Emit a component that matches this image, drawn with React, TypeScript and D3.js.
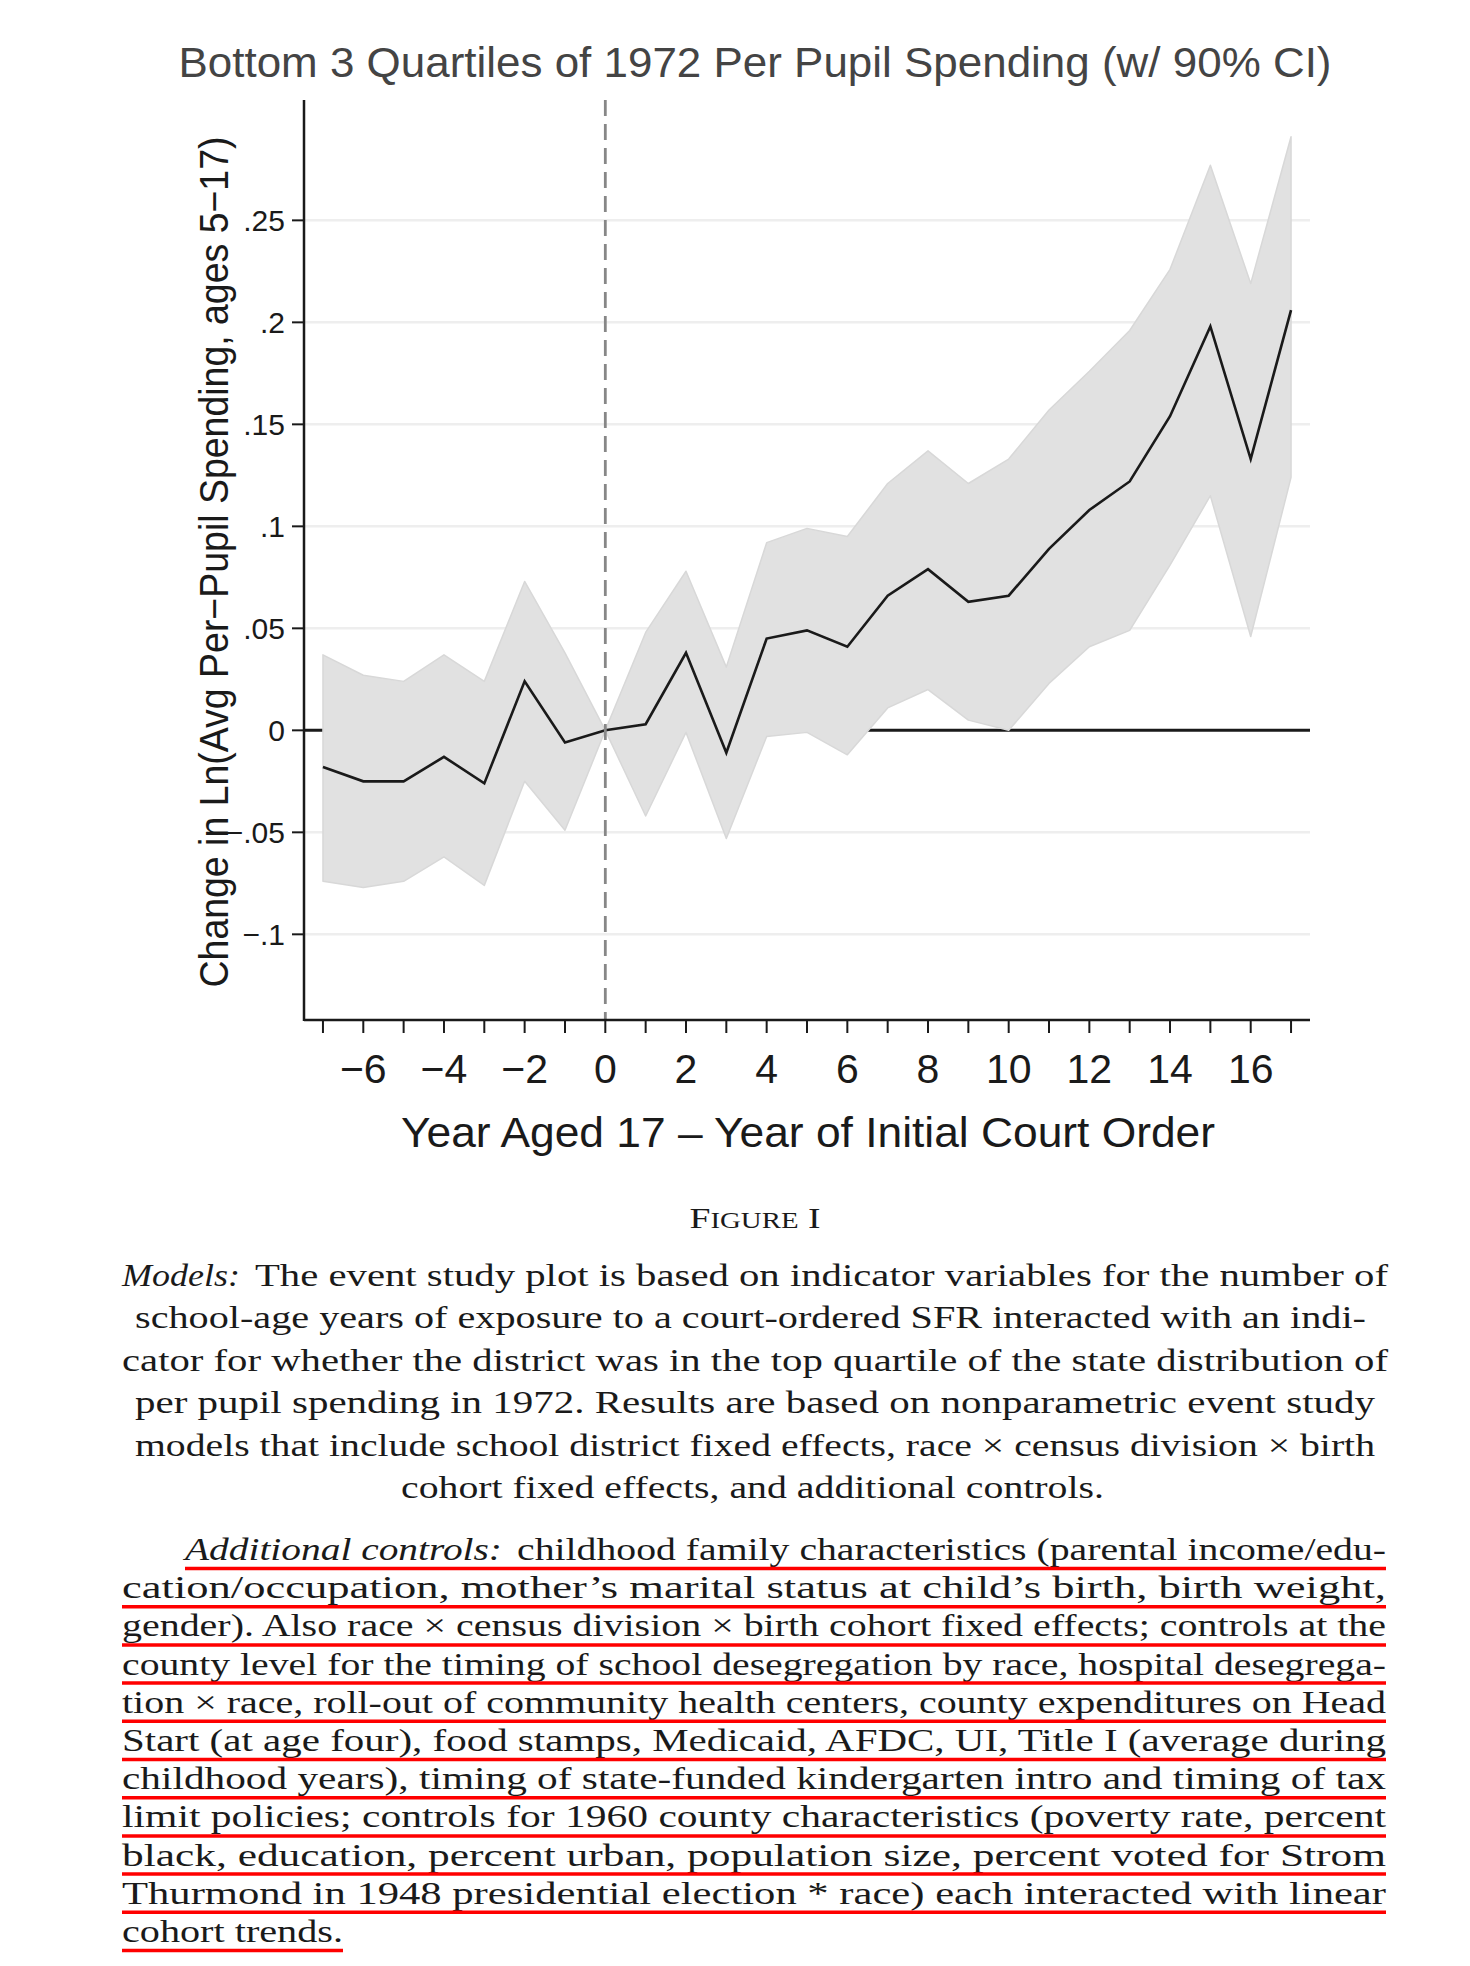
import { useEffect } from "react"
import * as d3 from "d3"

// event-study estimates
const years = [-7, -6, -5, -4, -3, -2, -1, 0, 1, 2, 3, 4, 5, 6, 7, 8, 9, 10, 11, 12, 13, 14, 15, 16, 17]
const coef = [-0.018, -0.025, -0.025, -0.013, -0.026, 0.024, -0.006, 0, 0.003, 0.038, -0.011, 0.045, 0.049, 0.041, 0.066, 0.079, 0.063, 0.066, 0.089, 0.108, 0.122, 0.154, 0.198, 0.133, 0.206]
const upper = [0.037, 0.027, 0.024, 0.037, 0.024, 0.073, 0.038, 0, 0.048, 0.078, 0.031, 0.092, 0.099, 0.095, 0.121, 0.137, 0.121, 0.133, 0.157, 0.176, 0.196, 0.226, 0.277, 0.219, 0.291]
const lower = [-0.074, -0.077, -0.074, -0.062, -0.076, -0.025, -0.049, 0, -0.042, -0.001, -0.053, -0.003, -0.001, -0.012, 0.011, 0.02, 0.005, 0, 0.023, 0.041, 0.049, 0.081, 0.115, 0.046, 0.124]

const yTicks = [0.25, 0.2, 0.15, 0.1, 0.05, 0, -0.05, -0.1]
const yTickLabels = [".25", ".2", ".15", ".1", ".05", "0", "\u2212.05", "\u2212.1"]
const xTickMarks = d3.range(-7, 18)
const xTickLabels = [-6, -4, -2, 0, 2, 4, 6, 8, 10, 12, 14, 16]

const title = "Bottom 3 Quartiles of 1972 Per Pupil Spending (w/ 90% CI)"
const yTitle = "Change in Ln(Avg Per\u2212Pupil Spending, ages 5\u221217)"
const xTitle = "Year Aged 17 \u2013 Year of Initial Court Order"

const modelsLines = [
  "The event study plot is based on indicator variables for the number of",
  "school-age years of exposure to a court-ordered SFR interacted with an indi-",
  "cator for whether the district was in the top quartile of the state distribution of",
  "per pupil spending in 1972. Results are based on nonparametric event study",
  "models that include school district fixed effects, race \u00d7 census division \u00d7 birth",
  "cohort fixed effects, and additional controls.",
]
const controlsLines = [
  "childhood family characteristics (parental income/edu-",
  "cation/occupation, mother\u2019s marital status at child\u2019s birth, birth weight,",
  "gender). Also race \u00d7 census division \u00d7 birth cohort fixed effects; controls at the",
  "county level for the timing of school desegregation by race, hospital desegrega-",
  "tion \u00d7 race, roll-out of community health centers, county expenditures on Head",
  "Start (at age four), food stamps, Medicaid, AFDC, UI, Title I (average during",
  "childhood years), timing of state-funded kindergarten intro and timing of tax",
  "limit policies; controls for 1960 county characteristics (poverty rate, percent",
  "black, education, percent urban, population size, percent voted for Strom",
  "Thurmond in 1948 presidential election * race) each interacted with linear",
  "cohort trends.",
]

const sans = "'Liberation Sans', Arial, Helvetica, sans-serif"
const serif = "'Liberation Serif', 'Times New Roman', serif"

export default function App() {
  useEffect(() => {
    document.body.style.margin = "0"
  }, [])

  const plot = { left: 304, right: 1310, top: 100, bottom: 1020 }
  const x = d3.scaleLinear().domain([-7.47, 17.47]).range([plot.left, plot.right])
  const y = d3.scaleLinear().domain([-0.142, 0.309]).range([plot.bottom, plot.top])

  const pts = years.map((t, i) => ({ t, c: coef[i], hi: upper[i], lo: lower[i] }))
  const band = d3
    .area<(typeof pts)[number]>()
    .x((d) => x(d.t))
    .y0((d) => y(d.lo))
    .y1((d) => y(d.hi))
  const line = d3
    .line<(typeof pts)[number]>()
    .x((d) => x(d.t))
    .y((d) => y(d.c))

  // * caption geometry
  const modelsBase = 1286
  const modelsStep = 42.4
  const modelsExtents: [number, number][] = [
    [255, 1388],
    [135, 1366],
    [122, 1388],
    [135, 1375],
    [135, 1375],
    [401, 1104],
  ]
  const ctrlBase = 1560
  const ctrlStep = 38.2
  const left = 122
  const right = 1386

  return (
    <svg width={1470} height={1966} style={{ display: "block", background: "#fff" }}>
      {/* title */}
      <text
        x={755}
        y={77}
        textAnchor="middle"
        fontFamily={sans}
        fontSize={42}
        fill="#444"
        textLength={1153}
        lengthAdjust="spacingAndGlyphs"
      >
        {title}
      </text>

      {/* gridlines */}
      {yTicks
        .filter((v) => v !== 0)
        .map((v) => (
          <line key={v} x1={plot.left} x2={plot.right} y1={y(v)} y2={y(v)} stroke="#eeeeee" strokeWidth={2.5} />
        ))}
      <line x1={plot.left} x2={plot.right} y1={y(0)} y2={y(0)} stroke="#1a1a1a" strokeWidth={3} />

      {/* confidence band + estimates */}
      <path d={band(pts) ?? ""} fill="#e1e1e1" stroke="#d8d8d8" strokeWidth={1.5} strokeLinejoin="round" />
      <path d={line(pts) ?? ""} fill="none" stroke="#1a1a1a" strokeWidth={2.6} strokeLinejoin="miter" />

      {/* event line */}
      <line
        x1={x(0)}
        x2={x(0)}
        y1={plot.top}
        y2={plot.bottom}
        stroke="#878787"
        strokeWidth={2.8}
        strokeDasharray="16 8"
      />

      {/* axes */}
      <line x1={plot.left} x2={plot.left} y1={plot.top} y2={plot.bottom + 1} stroke="#1a1a1a" strokeWidth={2.5} />
      <line x1={plot.left} x2={plot.right} y1={plot.bottom} y2={plot.bottom} stroke="#1a1a1a" strokeWidth={2.5} />

      {yTicks.map((v, i) => (
        <g key={v}>
          <line x1={plot.left - 12} x2={plot.left} y1={y(v)} y2={y(v)} stroke="#1a1a1a" strokeWidth={2} />
          <text
            x={285}
            y={y(v)}
            dy="0.36em"
            textAnchor="end"
            fontFamily={sans}
            fontSize={30}
            fill="#1a1a1a"
          >
            {yTickLabels[i]}
          </text>
        </g>
      ))}

      {xTickMarks.map((t) => (
        <line key={t} x1={x(t)} x2={x(t)} y1={plot.bottom} y2={plot.bottom + 13} stroke="#1a1a1a" strokeWidth={2} />
      ))}
      {xTickLabels.map((t) => (
        <text key={t} x={x(t)} y={1083} textAnchor="middle" fontFamily={sans} fontSize={41} fill="#1a1a1a">
          {t < 0 ? `\u2212${-t}` : t}
        </text>
      ))}

      <text
        x={808}
        y={1147}
        textAnchor="middle"
        fontFamily={sans}
        fontSize={42}
        fill="#1a1a1a"
        textLength={814}
        lengthAdjust="spacingAndGlyphs"
      >
        {xTitle}
      </text>

      <text
        transform={`translate(228,${562}) rotate(-90)`}
        textAnchor="middle"
        fontFamily={sans}
        fontSize={40}
        fill="#1a1a1a"
        textLength={851}
        lengthAdjust="spacingAndGlyphs"
      >
        {yTitle}
      </text>

      {/* figure caption */}
      <text
        x={755}
        y={1228}
        textAnchor="middle"
        fontFamily={serif}
        fontSize={30}
        fill="#1a1a1a"
        textLength={131}
        lengthAdjust="spacingAndGlyphs"
      >
        F<tspan fontSize={23}>IGURE</tspan> I
      </text>

      <text
        x={122}
        y={modelsBase}
        fontFamily={serif}
        fontStyle="italic"
        fontSize={31}
        fill="#1a1a1a"
        textLength={118}
        lengthAdjust="spacingAndGlyphs"
      >
        Models:
      </text>
      {modelsLines.map((s, i) => {
        const [a, b] = modelsExtents[i]
        return (
          <text
            key={i}
            x={a}
            y={modelsBase + i * modelsStep}
            fontFamily={serif}
            fontSize={31}
            fill="#1a1a1a"
            textLength={b - a}
            lengthAdjust="spacingAndGlyphs"
          >
            {s}
          </text>
        )
      })}

      <text
        x={185}
        y={ctrlBase}
        fontFamily={serif}
        fontStyle="italic"
        fontSize={31}
        fill="#1a1a1a"
        textLength={317}
        lengthAdjust="spacingAndGlyphs"
      >
        Additional controls:
      </text>
      {controlsLines.map((s, i) => {
        const a = i === 0 ? 517 : left
        const b = i === controlsLines.length - 1 ? 343 : right
        const base = ctrlBase + i * ctrlStep
        const ux = i === 0 ? 185 : left
        return (
          <g key={i}>
            <text
              x={a}
              y={base}
              fontFamily={serif}
              fontSize={31}
              fill="#1a1a1a"
              textLength={b - a}
              lengthAdjust="spacingAndGlyphs"
            >
              {s}
            </text>
            <line x1={ux} x2={b} y1={base + 8.5} y2={base + 8.5} stroke="#ff0000" strokeWidth={3.5} />
          </g>
        )
      })}
    </svg>
  )
}
